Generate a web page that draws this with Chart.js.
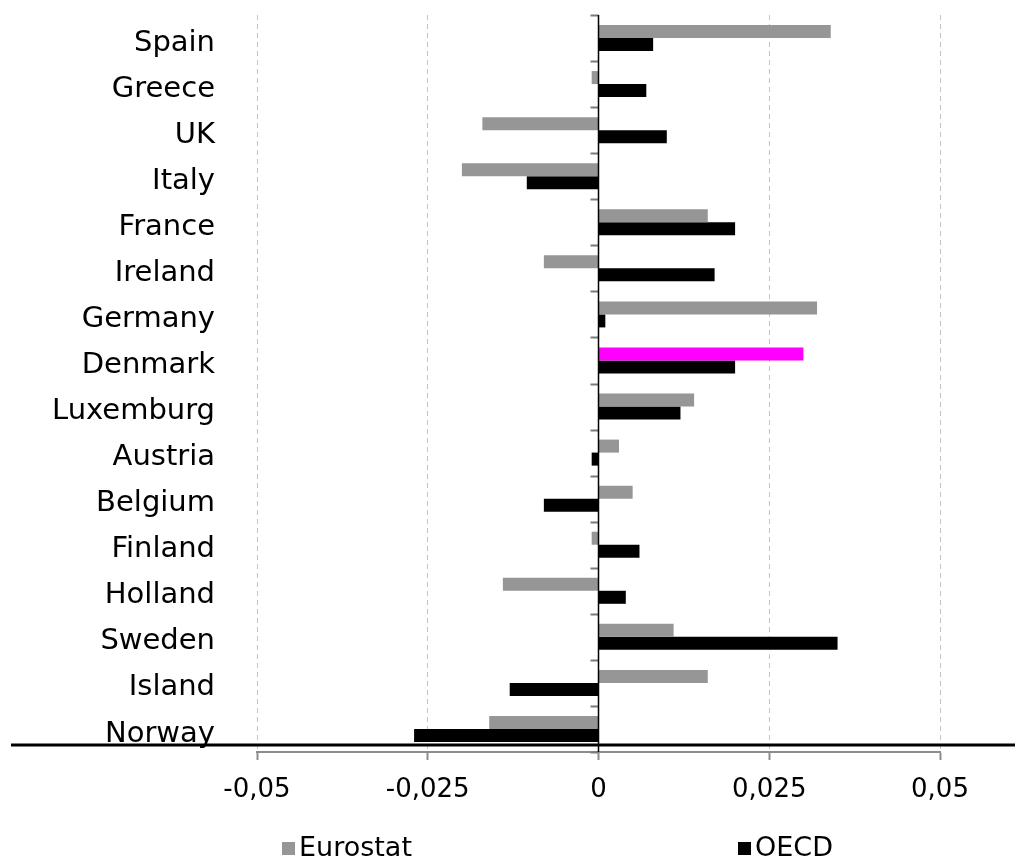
<!DOCTYPE html>
<html>
<head>
<meta charset="utf-8">
<script src="https://cdn.jsdelivr.net/npm/chart.js@4/dist/chart.umd.min.js"></script>
<style>
  html, body { margin: 0; padding: 0; background: #fff; }
  #wrap { width: 1017px; height: 862px; }
</style>
</head>
<body>
<div id="wrap"><canvas id="myChart" width="1017" height="862"></canvas></div>
<script>
// Data
const countries = ['Spain', 'Greece', 'UK', 'Italy', 'France', 'Ireland', 'Germany', 'Denmark',
                   'Luxemburg', 'Austria', 'Belgium', 'Finland', 'Holland', 'Sweden', 'Island', 'Norway'];
const eurostat = [0.034, -0.001, -0.017, -0.020, 0.016, -0.008, 0.032, 0.030,
                  0.014, 0.003, 0.005, -0.001, -0.014, 0.011, 0.016, -0.016];
const oecd     = [0.008, 0.007, 0.010, -0.0105, 0.020, 0.017, 0.001, 0.020,
                  0.012, -0.001, -0.008, 0.006, 0.004, 0.035, -0.013, -0.027];
const xTicks = [-0.05, -0.025, 0, 0.025, 0.05];
const highlight = 'Denmark';

const GREY = '#969696';
const FONT = '"DejaVu Sans", Verdana, sans-serif';

// zero line, category ticks, the heavy rule and the legend
const extras = {
    id: 'extras',
    afterDatasetsDraw(chart) {
        const c = chart.ctx;
        const x = chart.scales.x, y = chart.scales.y;
        const x0 = x.getPixelForValue(0);
        const step = (y.bottom - y.top) / countries.length;
        c.save();
        c.strokeStyle = '#7a7a7a';
        c.lineWidth = 2;
        for (let i = 0; i <= countries.length; i++) {
            const py = Math.round(y.top + i * step) + 0.5;
            c.beginPath(); c.moveTo(x0 - 8, py); c.lineTo(x0, py); c.stroke();
        }
        c.strokeStyle = '#000';
        c.lineWidth = 1.5;
        c.beginPath(); c.moveTo(x0, y.top); c.lineTo(x0, y.bottom); c.stroke();
        c.lineWidth = 3;
        c.beginPath(); c.moveTo(11, y.bottom - 7); c.lineTo(1015, y.bottom - 7); c.stroke();
        c.restore();
    },
    afterDraw(chart) {
        const c = chart.ctx;
        const items = [[282, chart.data.datasets[0]], [738, chart.data.datasets[1]]];
        c.save();
        c.font = '27px ' + FONT;
        c.textBaseline = 'middle';
        items.forEach(([lx, ds]) => {
            c.fillStyle = ds.legendColor;
            c.fillRect(lx, 842, 13, 13);
            c.fillStyle = '#000';
            c.fillText(ds.label, lx + 17, 849);
        });
        c.restore();
    }
};

new Chart(document.getElementById('myChart'), {
    type: 'bar',
    data: {
        labels: countries,
        datasets: [{
            label: 'Eurostat',
            data: eurostat,
            legendColor: GREY,
            backgroundColor: countries.map(n => n === highlight ? '#ff00ff' : GREY),
            categoryPercentage: 0.565,
            barPercentage: 1
        }, {
            label: 'OECD',
            data: oecd,
            legendColor: '#000',
            backgroundColor: '#000',
            categoryPercentage: 0.565,
            barPercentage: 1
        }]
    },
    options: {
        indexAxis: 'y',
        responsive: false,
        animation: false,
        devicePixelRatio: 1,
        layout: { padding: { left: 0, right: 77, top: 15, bottom: 0 } },
        plugins: { legend: { display: false }, tooltip: { enabled: false } },
        scales: {
            x: {
                min: -0.05,
                max: 0.05,
                afterBuildTicks: s => { s.ticks = xTicks.map(v => ({ value: v })); },
                afterFit: s => { s.height = 110; },
                grid: {
                    color: ctx => ctx.tick && ctx.tick.value === 0 ? 'rgba(0,0,0,0)' : '#c4c4c4',
                    lineWidth: 1,
                    tickLength: 8,
                    tickColor: '#8c8c8c',
                    tickWidth: 2,
                    tickBorderDash: []
                },
                border: { display: true, color: '#8c8c8c', width: 2, dash: [5, 4] },
                ticks: {
                    color: '#000',
                    padding: 15,
                    font: { family: FONT, size: 26 },
                    callback: v => String(v).replace('.', ',')
                }
            },
            y: {
                afterFit: s => { s.width = 257; s.paddingTop = 0; s.paddingBottom = 0; },
                grid: { display: false },
                border: { display: false },
                ticks: {
                    color: '#000',
                    padding: 34,
                    labelOffset: 5,
                    font: { family: FONT, size: 29 }
                }
            }
        }
    },
    plugins: [extras]
});
</script>
</body>
</html>
